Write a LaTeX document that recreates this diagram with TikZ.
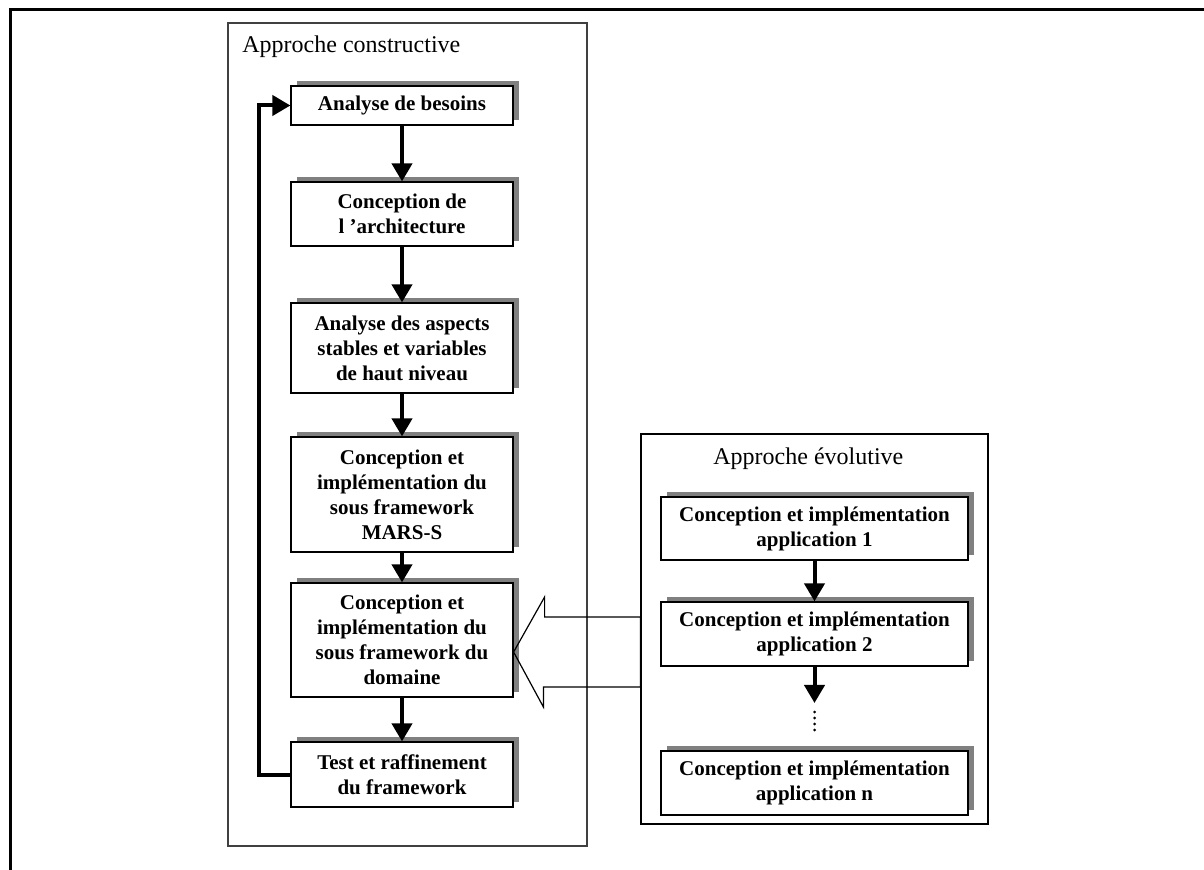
\documentclass[tikz,border=0pt]{standalone}
\usepackage{fontspec}
\setmainfont{Liberation Serif}
\usepackage{tikz}
\usetikzlibrary{arrows.meta, positioning, shadows, calc}

\begin{document}
\begin{tikzpicture}[
  x=0.5pt, y=-0.5pt,
  etape/.style={draw, line width=0.6pt, fill=white, align=center,
    font=\bfseries\fontsize{10.5}{12.5}\selectfont, inner sep=1pt,
    drop shadow={shadow xshift=3pt, shadow yshift=2.5pt, fill=black!50, opacity=1}},
  cadre/.style={draw, line width=0.6pt, inner sep=0pt},
  titre/.style={anchor=base west, inner sep=0pt, font=\fontsize{12}{14}\selectfont},
  arrow/.style={line width=2pt, -{Triangle[width=10pt, length=9pt]}}
]
\useasboundingbox (0,0) rectangle (1204,870);

% Frame
\draw[line width=1.5pt] (1204,10) -- (10,10) -- (10,870);

% Containers
\node[cadre, draw=black!75, minimum width=179.5pt, minimum height=411.5pt] (constr) at (407.5,434.5) {};
\node[cadre, minimum width=173.5pt, minimum height=195pt] (evol) at (814.5,629) {};
\node[titre] (tconstr) at (242,53) {Approche constructive};
\node[titre] (tevol) at (713,465) {Approche évolutive};

% Nodes
\node[etape, minimum width=111pt, minimum height=19.5pt] (besoins) at (402,105.5) {Analyse de besoins};
\node[etape, minimum width=111pt, minimum height=32pt] (archi) at (402,214) {Conception de\\l ’architecture};
\node[etape, minimum width=111pt, minimum height=45pt] (aspects) at (402,348) {Analyse des aspects\\stables et variables\\de haut niveau};
\node[etape, minimum width=111pt, minimum height=57.5pt] (marss) at (402,494.5) {Conception et\\implémentation du\\sous framework\\MARS-S};
\node[etape, minimum width=111pt, minimum height=57pt] (domaine) at (402,640) {Conception et\\implémentation du\\sous framework du\\domaine};
\node[etape, minimum width=111pt, minimum height=32.5pt] (test) at (402,774.5) {Test et raffinement\\du framework};

\node[etape, minimum width=153.5pt, minimum height=31.5pt] (app1) at (814.5,528.5) {Conception et implémentation\\application 1};
\node[etape, minimum width=153.5pt, minimum height=32pt] (app2) at (814.5,634) {Conception et implémentation\\application 2};
\node[etape, minimum width=153.5pt, minimum height=32pt] (appn) at (814.5,783) {Conception et implémentation\\application n};
\coordinate (suite) at (814.5,703);

% Pointers
\draw[arrow] (besoins) -- (archi);
\draw[arrow] (archi) -- (aspects);
\draw[arrow] (aspects) -- (marss);
\draw[arrow] (marss) -- (domaine);
\draw[arrow] (domaine) -- (test);
\draw[arrow] (test.west) -- ++(-31,0) |- (besoins.west);
\draw[arrow] (app1) -- (app2);
\draw[arrow] (app2) -- (suite);
\draw[line width=1.5pt, line cap=round, dash pattern=on 0pt off 3pt] ($(suite)+(0,9)$) -- ($(suite)+(0,28)$);

% Hollow arrow
\draw[line width=0.6pt] ($(domaine.east)+(0,12)$) -- ++(31,-55) -- ++(0,20)
  -- ($(evol.west)+(0,-12)$) -- ($(evol.west)+(0,58)$) -- ++(-97,0) -- ++(0,20) -- cycle;
\end{tikzpicture}
\end{document}
